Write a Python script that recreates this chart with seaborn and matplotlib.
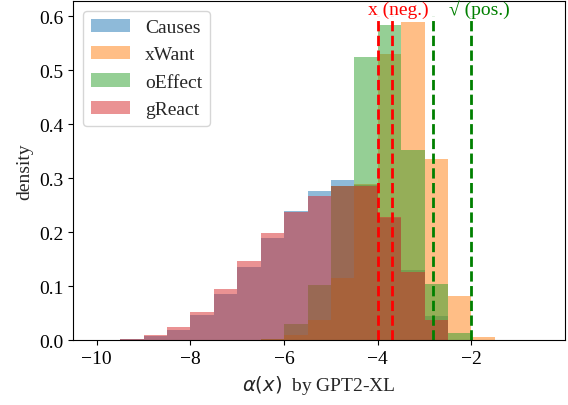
import numpy as np
import pandas as pd
import matplotlib
matplotlib.use("Agg")
import matplotlib.pyplot as plt
import seaborn as sns

# histogram bins (width 0.5) and densities
bin_edges = np.arange(-10, -1.4, 0.5)
bin_centers = bin_edges[:-1] + 0.25

causes = [0, 0.002, 0.008, 0.020, 0.0475, 0.086, 0.136, 0.189, 0.239, 0.276,
          0.297, 0.287, 0.226, 0.130, 0.045, 0, 0]
xwant = [0, 0, 0, 0, 0, 0, 0, 0.003, 0.010, 0.038,
         0.115, 0.290, 0.530, 0.590, 0.336, 0.082, 0.006]
oeffect = [0, 0, 0, 0, 0, 0, 0, 0.003, 0.030, 0.102,
           0.285, 0.525, 0.584, 0.353, 0.104, 0.0135, 0]
greact = [0, 0.003, 0.0098, 0.0246, 0.0524, 0.095, 0.147, 0.199, 0.237, 0.267,
          0.286, 0.285, 0.228, 0.126, 0.038, 0, 0]

series_names = ["Causes", "xWant", "oEffect", "gReact"]
series_vals = [causes, xwant, oeffect, greact]
series_colors = ["C0", "C1", "C2", "C3"]

neg_lines = [-4.0, -3.7]
pos_lines = [-2.82, -2.0]

sns.set_style("ticks")
plt.rcParams["font.family"] = ["Liberation Serif", "DejaVu Serif"]
plt.rcParams["mathtext.fontset"] = "dejavusans"
plt.rcParams["font.size"] = 14

fig, ax = plt.subplots(figsize=(5.68, 4.06), dpi=100)
fig.subplots_adjust(left=0.129, right=0.995, top=0.995, bottom=0.159)

for name, vals, col in zip(series_names, series_vals, series_colors):
    df = pd.DataFrame({"alpha": bin_centers, "w": vals})
    sns.histplot(data=df, x="alpha", weights="w", binwidth=0.5,
                 binrange=(bin_edges[0], bin_edges[-1]), stat="count",
                 color=col, alpha=0.5, linewidth=0, label=name, ax=ax)

ax.vlines(neg_lines, 0, 0.6, colors="red", linestyles="--", linewidth=2)
ax.vlines(pos_lines, 0, 0.6, colors="green", linestyles="--", linewidth=2)
ax.text(-3.56, 0.597, "x (neg.)", color="red", ha="center", va="bottom", fontsize=14)
ax.text(-1.84, 0.597, "\u221a (pos.)", color="green", ha="center", va="bottom", fontsize=14)

ax.set_xlim(-10.5, 0)
ax.set_ylim(0, 0.628)
ax.set_xticks([-10, -8, -6, -4, -2])
ax.set_xticklabels(["\u221210", "\u22128", "\u22126", "\u22124", "\u22122"])
ax.set_yticks([0.0, 0.1, 0.2, 0.3, 0.4, 0.5, 0.6])
ax.set_yticklabels(["0.0", "0.1", "0.2", "0.3", "0.4", "0.5", "0.6"])
ax.set_xlabel(r"$\alpha(x)$  by GPT2-XL")
ax.set_ylabel("density")
for s in ax.spines.values():
    s.set_color("black")
ax.tick_params(colors="black")
ax.legend(loc="upper left", fontsize=14)

fig.savefig("out.png", dpi=100)
